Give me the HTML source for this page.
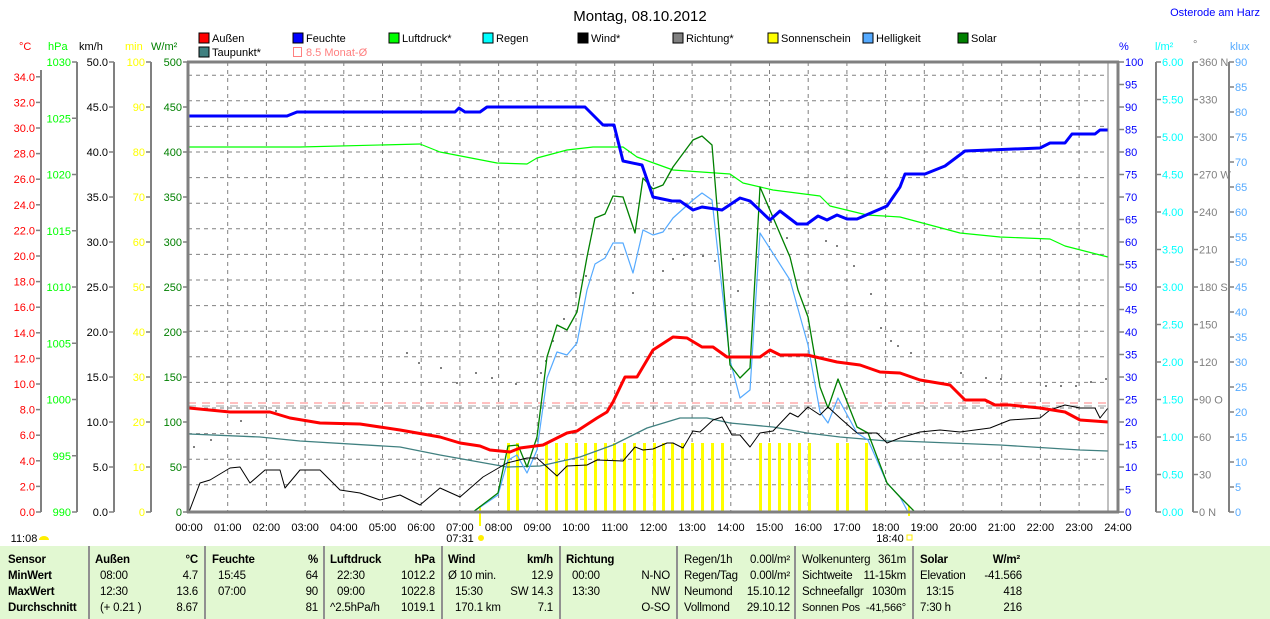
<!DOCTYPE html>
<html><head><meta charset="utf-8"><style>
body{margin:0;width:1270px;height:619px;background:#fff;overflow:hidden;position:relative;font-family:"Liberation Sans",sans-serif}
svg{position:absolute;left:0;top:0}
.tb{position:absolute;left:0;top:546px;width:1270px;height:73px;background:#e2f8d2}
.t{position:absolute;font-size:11.5px;letter-spacing:-0.2px;white-space:nowrap;color:#000}
.b{font-weight:bold}
.r{text-align:right}
.sep{position:absolute;top:546px;width:2px;height:73px;background:#909090}
</style></head><body>
<svg width="1270" height="619" font-family="Liberation Sans, sans-serif">
<text x="640" y="21" font-size="15" text-anchor="middle">Montag, 08.10.2012</text>
<text x="1260" y="16" font-size="11" fill="#0000ff" text-anchor="end">Osterode am Harz</text>
<g font-size="11">
<rect x="199" y="33" width="10" height="10" fill="#ff0000" stroke="#000"/><text x="212" y="42">Außen</text>
<rect x="293" y="33" width="10" height="10" fill="#0000ff" stroke="#000"/><text x="306" y="42">Feuchte</text>
<rect x="389" y="33" width="10" height="10" fill="#00ff00" stroke="#000"/><text x="402" y="42">Luftdruck*</text>
<rect x="483" y="33" width="10" height="10" fill="#00ffff" stroke="#000"/><text x="496" y="42">Regen</text>
<rect x="578" y="33" width="10" height="10" fill="#000" stroke="#000"/><text x="591" y="42">Wind*</text>
<rect x="673" y="33" width="10" height="10" fill="#808080" stroke="#000"/><text x="686" y="42">Richtung*</text>
<rect x="768" y="33" width="10" height="10" fill="#ffff00" stroke="#000"/><text x="781" y="42">Sonnenschein</text>
<rect x="863" y="33" width="10" height="10" fill="#55aaff" stroke="#000"/><text x="876" y="42">Helligkeit</text>
<rect x="958" y="33" width="10" height="10" fill="#008000" stroke="#000"/><text x="971" y="42">Solar</text>
<rect x="199" y="47" width="10" height="10" fill="#408080" stroke="#000"/><text x="212" y="56">Taupunkt*</text>
<rect x="293.5" y="47.5" width="8" height="9" fill="none" stroke="#ff8080"/><text x="306" y="56" fill="#ff8080">8.5 Monat-Ø</text>
</g>
<g font-size="11">
<text x="19" y="50" fill="#ff0000">°C</text>
<text x="48" y="50" fill="#00ff00">hPa</text>
<text x="79" y="50" fill="#000">km/h</text>
<text x="125" y="50" fill="#ffff00">min</text>
<text x="151" y="50" fill="#008000">W/m²</text>
<text x="1119" y="50" fill="#0000ff">%</text>
<text x="1155" y="50" fill="#00ffff">l/m²</text>
<text x="1193" y="48" fill="#808080">°</text>
<text x="1230" y="50" fill="#55aaff">klux</text>
</g>
<g stroke="#808080" stroke-dasharray="4,4" stroke-width="1">
<line x1="188" x2="1108" y1="75.2" y2="75.2"/><line x1="188" x2="1108" y1="100.8" y2="100.8"/><line x1="188" x2="1108" y1="126.4" y2="126.4"/><line x1="188" x2="1108" y1="152" y2="152"/><line x1="188" x2="1108" y1="177.6" y2="177.6"/><line x1="188" x2="1108" y1="203.2" y2="203.2"/><line x1="188" x2="1108" y1="228.8" y2="228.8"/><line x1="188" x2="1108" y1="254.4" y2="254.4"/><line x1="188" x2="1108" y1="280" y2="280"/><line x1="188" x2="1108" y1="305.6" y2="305.6"/><line x1="188" x2="1108" y1="331.2" y2="331.2"/><line x1="188" x2="1108" y1="356.8" y2="356.8"/><line x1="188" x2="1108" y1="382.4" y2="382.4"/><line x1="188" x2="1108" y1="408" y2="408"/><line x1="188" x2="1108" y1="433.6" y2="433.6"/><line x1="188" x2="1108" y1="459.2" y2="459.2"/><line x1="188" x2="1108" y1="484.8" y2="484.8"/>
<line y1="62" y2="512" x1="227.7" x2="227.7"/><line y1="62" y2="512" x1="266.4" x2="266.4"/><line y1="62" y2="512" x1="305.1" x2="305.1"/><line y1="62" y2="512" x1="343.8" x2="343.8"/><line y1="62" y2="512" x1="382.5" x2="382.5"/><line y1="62" y2="512" x1="421.2" x2="421.2"/><line y1="62" y2="512" x1="459.9" x2="459.9"/><line y1="62" y2="512" x1="498.6" x2="498.6"/><line y1="62" y2="512" x1="537.3" x2="537.3"/><line y1="62" y2="512" x1="576" x2="576"/><line y1="62" y2="512" x1="614.7" x2="614.7"/><line y1="62" y2="512" x1="653.4" x2="653.4"/><line y1="62" y2="512" x1="692.1" x2="692.1"/><line y1="62" y2="512" x1="730.8" x2="730.8"/><line y1="62" y2="512" x1="769.5" x2="769.5"/><line y1="62" y2="512" x1="808.2" x2="808.2"/><line y1="62" y2="512" x1="846.9" x2="846.9"/><line y1="62" y2="512" x1="885.6" x2="885.6"/><line y1="62" y2="512" x1="924.3" x2="924.3"/><line y1="62" y2="512" x1="963" x2="963"/><line y1="62" y2="512" x1="1001.7" x2="1001.7"/><line y1="62" y2="512" x1="1040.4" x2="1040.4"/><line y1="62" y2="512" x1="1079.1" x2="1079.1"/>
</g>
<line x1="188" x2="1108" y1="406" y2="406" stroke="#a0a0a0" stroke-dasharray="8,6"/>
<line x1="188" x2="1108" y1="403" y2="403" stroke="#ff8080" stroke-dasharray="8,6"/>
<g fill="#808080">
<rect x="193" y="446" width="2" height="2"/><rect x="210" y="439" width="2" height="2"/><rect x="240" y="420" width="2" height="2"/><rect x="275" y="410" width="2" height="2"/><rect x="406" y="352" width="2" height="2"/><rect x="418" y="362" width="2" height="2"/><rect x="440" y="367" width="2" height="2"/><rect x="456" y="382" width="2" height="2"/><rect x="475" y="372" width="2" height="2"/><rect x="491" y="377" width="2" height="2"/><rect x="515" y="383" width="2" height="2"/><rect x="540" y="372" width="2" height="2"/><rect x="545" y="360" width="2" height="2"/><rect x="552" y="340" width="2" height="2"/><rect x="563" y="318" width="2" height="2"/><rect x="575" y="292" width="2" height="2"/><rect x="585" y="275" width="2" height="2"/><rect x="632" y="292" width="2" height="2"/><rect x="662" y="270" width="2" height="2"/><rect x="672" y="258" width="2" height="2"/><rect x="683" y="254" width="2" height="2"/><rect x="702" y="255" width="2" height="2"/><rect x="714" y="260" width="2" height="2"/><rect x="737" y="290" width="2" height="2"/><rect x="757" y="256" width="2" height="2"/><rect x="770" y="221" width="2" height="2"/><rect x="786" y="237" width="2" height="2"/><rect x="825" y="240" width="2" height="2"/><rect x="836" y="245" width="2" height="2"/><rect x="853" y="265" width="2" height="2"/><rect x="870" y="293" width="2" height="2"/><rect x="880" y="327" width="2" height="2"/><rect x="890" y="340" width="2" height="2"/><rect x="897" y="345" width="2" height="2"/><rect x="910" y="352" width="2" height="2"/><rect x="960" y="372" width="2" height="2"/><rect x="985" y="377" width="2" height="2"/><rect x="1000" y="378" width="2" height="2"/><rect x="1045" y="385" width="2" height="2"/><rect x="1060" y="385" width="2" height="2"/><rect x="1075" y="385" width="2" height="2"/><rect x="1090" y="381" width="2" height="2"/><rect x="1105" y="378" width="2" height="2"/>
</g>
<g fill="#ffff00">
<rect x="507" y="443" width="3" height="69"/><rect x="516" y="443" width="3" height="69"/><rect x="545" y="443" width="3" height="69"/><rect x="555" y="443" width="3" height="69"/><rect x="565" y="443" width="3" height="69"/><rect x="575" y="443" width="3" height="69"/><rect x="584" y="443" width="3" height="69"/><rect x="594" y="443" width="3" height="69"/><rect x="604" y="443" width="3" height="69"/><rect x="613" y="443" width="3" height="69"/><rect x="623" y="443" width="3" height="69"/><rect x="633" y="443" width="3" height="69"/><rect x="643" y="443" width="3" height="69"/><rect x="653" y="443" width="3" height="69"/><rect x="662" y="443" width="3" height="69"/><rect x="671" y="443" width="3" height="69"/><rect x="681" y="443" width="3" height="69"/><rect x="691" y="443" width="3" height="69"/><rect x="701" y="443" width="3" height="69"/><rect x="711" y="443" width="3" height="69"/><rect x="721" y="443" width="3" height="69"/><rect x="759" y="443" width="3" height="69"/><rect x="768" y="443" width="3" height="69"/><rect x="778" y="443" width="3" height="69"/><rect x="788" y="443" width="3" height="69"/><rect x="798" y="443" width="3" height="69"/><rect x="808" y="443" width="3" height="69"/><rect x="836" y="443" width="3" height="69"/><rect x="846" y="443" width="3" height="69"/><rect x="865" y="443" width="3" height="69"/>
<rect x="479" y="506" width="2" height="20"/><rect x="908" y="506" width="2" height="10"/>
</g>
<g fill="none" stroke-linejoin="round">
<polyline stroke="#408080" stroke-width="1.3" points="189,434 260,437 300,441 400,447 440,455 507,467 540,466 580,457 613,445 647,428 680,418 707,418 730,423 773,427 807,433 840,437 887,441 900,441 1000,445 1080,450 1108,451"/>
<polyline stroke="#00ff00" stroke-width="1.2" points="189,147 300,147 420,144 440,152 497,163 527,164 537,158 567,150 593,147 623,147 637,157 673,170 730,174 743,183 773,190 820,196 830,206 867,215 900,217 960,233 1000,237 1050,239 1065,246 1100,255 1108,257"/>
<polyline stroke="#55aaff" stroke-width="1.2" points="473,512 498,495 508,460 517,455 527,473 537,450 547,378 557,352 567,355 577,343 587,290 595,264 605,258 613,243 623,243 633,273 643,230 653,235 663,232 673,218 693,200 702,193 712,200 730,360 740,398 750,390 760,233 790,280 808,345 820,412 828,423 838,398 857,433 868,440 887,483 900,497 908,512"/>
<polyline stroke="#008000" stroke-width="1.3" points="473,512 498,493 508,446 518,445 527,467 537,437 547,357 557,325 567,330 577,312 587,257 595,218 605,214 613,196 623,197 635,233 643,178 653,189 663,185 673,167 693,140 702,136 712,145 730,365 740,378 750,368 760,187 790,257 798,290 808,317 820,387 828,408 838,379 857,427 868,433 887,483 900,497 910,507 915,512"/>
<polyline stroke="#000" stroke-width="1" points="189,512 200,483 210,480 230,468 240,467 250,483 265,470 280,470 285,488 300,470 320,470 340,490 360,493 380,500 400,495 410,500 420,505 440,488 460,497 483,477 507,463 527,458 537,458 557,476 567,466 587,465 597,460 623,461 635,447 643,450 653,449 667,443 673,443 683,448 693,431 700,432 713,420 722,417 732,435 740,435 750,447 760,433 773,431 790,413 798,417 808,407 820,415 828,407 840,418 857,433 877,433 887,443 900,438 920,432 940,430 960,432 990,428 1010,420 1040,418 1050,410 1065,405 1080,408 1095,408 1100,418 1108,408"/>
<polyline stroke="#ff0000" stroke-width="3" points="189,408 230,412 270,412 290,418 320,423 360,424 400,430 440,437 460,443 480,446 490,450 510,452 520,448 543,445 567,433 577,431 597,418 607,412 613,402 625,377 637,377 653,350 673,337 687,338 702,347 713,347 727,357 760,357 770,350 780,355 807,355 837,362 860,365 880,372 900,373 920,380 950,385 965,400 985,400 995,405 1010,405 1040,408 1065,412 1080,420 1108,422"/>
<polyline stroke="#0000ff" stroke-width="3" points="189,116 287,116 297,112 455,112 459,108 465,112 480,112 487,107 585,107 603,125 614,125 623,161 642,165 653,197 672,201 680,201 693,210 702,207 722,210 740,198 750,201 770,220 780,211 797,224 807,224 818,216 827,220 837,215 847,219 857,219 887,206 900,187 905,174 925,174 945,166 965,151 1040,148 1050,143 1065,143 1072,134 1095,134 1100,130 1108,130"/>
</g>
<g stroke="#808080" fill="none">
<line x1="188" y1="62" x2="188" y2="513" stroke-width="3"/>
<line x1="187" y1="512" x2="1119" y2="512" stroke-width="3"/>
<line x1="187" y1="62" x2="1119" y2="62" stroke-width="3"/>
<line x1="1118" y1="61" x2="1118" y2="513" stroke-width="3"/>
<line x1="1108" y1="62" x2="1108" y2="512" stroke-width="1"/>
<line x1="41" y1="70" x2="41" y2="512" stroke-width="2"/>
<line x1="77" y1="62" x2="77" y2="512" stroke-width="2"/>
<line x1="114" y1="62" x2="114" y2="512" stroke-width="2"/>
<line x1="151" y1="62" x2="151" y2="512" stroke-width="2"/>
<line x1="1156" y1="62" x2="1156" y2="512" stroke-width="2"/>
<line x1="1193" y1="62" x2="1193" y2="512" stroke-width="2"/>
<line x1="1229" y1="62" x2="1229" y2="512" stroke-width="2"/>
</g>
<g id="ax" font-size="11"></g>
<g font-size="11" text-anchor="middle">
<text x="189" y="531">00:00</text><text x="227.7" y="531">01:00</text><text x="266.4" y="531">02:00</text><text x="305.1" y="531">03:00</text><text x="343.8" y="531">04:00</text><text x="382.5" y="531">05:00</text><text x="421.2" y="531">06:00</text><text x="459.9" y="531">07:00</text><text x="498.6" y="531">08:00</text><text x="537.3" y="531">09:00</text><text x="576" y="531">10:00</text><text x="614.7" y="531">11:00</text><text x="653.4" y="531">12:00</text><text x="692.1" y="531">13:00</text><text x="730.8" y="531">14:00</text><text x="769.5" y="531">15:00</text><text x="808.2" y="531">16:00</text><text x="846.9" y="531">17:00</text><text x="885.6" y="531">18:00</text><text x="924.3" y="531">19:00</text><text x="963" y="531">20:00</text><text x="1001.7" y="531">21:00</text><text x="1040.4" y="531">22:00</text><text x="1079.1" y="531">23:00</text><text x="1118" y="531">24:00</text>
<text x="460" y="542">07:31</text><text x="890" y="542">18:40</text><text x="24" y="542">11:08</text>
</g>
<circle cx="481" cy="538" r="3" fill="#ffee00"/>
<rect x="907" y="535" width="5" height="5" fill="none" stroke="#ffee00"/>
<path d="M39,540 a5,4 0 0 1 10,0 z" fill="#ffee00"/>
</svg>
<script>
(function(){
var g=document.getElementById('ax'),s='',i,y;
function T(x,y,t,c,a){s+='<text x="'+x+'" y="'+(y+4)+'" fill="'+c+'" text-anchor="'+a+'">'+t+'</text>';}
function L(x1,x2,y){s+='<line x1="'+x1+'" x2="'+x2+'" y1="'+y+'" y2="'+y+'" stroke="#808080" stroke-width="1.5"/>';}
for(i=0;i<=17;i++){y=512-25.6*i;L(36,41,y);T(35,y,(2*i).toFixed(1),'#ff0000','end');}
for(i=0;i<=8;i++){y=512-56.25*i;L(72,77,y);T(71,y,990+5*i,'#00ff00','end');}
for(i=0;i<=10;i++){y=512-45*i;L(109,114,y);T(108,y,(5*i).toFixed(1),'#000','end');}
for(i=0;i<=10;i++){y=512-45*i;L(146,151,y);T(145,y,10*i,'#ffff00','end');}
for(i=0;i<=10;i++){y=512-45*i;L(183,188,y);T(182,y,50*i,'#008000','end');}
for(i=0;i<=20;i++){y=512-22.5*i;L(1119,1124,y);T(1125,y,5*i,'#0000ff','start');}
for(i=0;i<=12;i++){y=512-37.5*i;L(1156,1161,y);T(1162,y,(0.5*i).toFixed(2),'#00ffff','start');}
var dl={0:' N',3:' O',6:' S',9:' W',12:' N'};
for(i=0;i<=12;i++){y=512-37.5*i;L(1193,1198,y);T(1199,y,30*i+(dl[i]||''),'#808080','start');}
for(i=0;i<=18;i++){y=512-25*i;L(1229,1234,y);T(1235,y,5*i,'#55aaff','start');}
g.innerHTML=s;
})();
</script>
<div class="tb"></div>
<div class="sep" style="left:88px"></div><div class="sep" style="left:204px"></div><div class="sep" style="left:323px"></div><div class="sep" style="left:441px"></div><div class="sep" style="left:559px"></div><div class="sep" style="left:676px"></div><div class="sep" style="left:794px"></div><div class="sep" style="left:912px"></div>
<div class="t b" style="left:8px;top:554px">Sensor</div><div class="t b" style="left:8px;top:570px">MinWert</div><div class="t b" style="left:8px;top:586px">MaxWert</div><div class="t b" style="left:8px;top:602px">Durchschnitt</div>
<div class="t b" style="left:95px;top:554px">Außen</div><div class="t b r" style="left:150px;width:48px;top:554px">°C</div>
<div class="t" style="left:100px;top:570px">08:00</div><div class="t r" style="left:150px;width:48px;top:570px">4.7</div>
<div class="t" style="left:100px;top:586px">12:30</div><div class="t r" style="left:150px;width:48px;top:586px">13.6</div>
<div class="t" style="left:100px;top:602px">(+ 0.21 )</div><div class="t r" style="left:150px;width:48px;top:602px">8.67</div>
<div class="t b" style="left:212px;top:554px">Feuchte</div><div class="t b r" style="left:270px;width:48px;top:554px">%</div>
<div class="t" style="left:218px;top:570px">15:45</div><div class="t r" style="left:270px;width:48px;top:570px">64</div>
<div class="t" style="left:218px;top:586px">07:00</div><div class="t r" style="left:270px;width:48px;top:586px">90</div>
<div class="t r" style="left:270px;width:48px;top:602px">81</div>
<div class="t b" style="left:330px;top:554px">Luftdruck</div><div class="t b r" style="left:387px;width:48px;top:554px">hPa</div>
<div class="t" style="left:337px;top:570px">22:30</div><div class="t r" style="left:387px;width:48px;top:570px">1012.2</div>
<div class="t" style="left:337px;top:586px">09:00</div><div class="t r" style="left:387px;width:48px;top:586px">1022.8</div>
<div class="t" style="left:330px;top:602px">^2.5hPa/h</div><div class="t r" style="left:387px;width:48px;top:602px">1019.1</div>
<div class="t b" style="left:448px;top:554px">Wind</div><div class="t b r" style="left:505px;width:48px;top:554px">km/h</div>
<div class="t" style="left:448px;top:570px">Ø 10 min.</div><div class="t r" style="left:505px;width:48px;top:570px">12.9</div>
<div class="t" style="left:455px;top:586px">15:30</div><div class="t r" style="left:495px;width:58px;top:586px">SW 14.3</div>
<div class="t" style="left:455px;top:602px">170.1 km</div><div class="t r" style="left:505px;width:48px;top:602px">7.1</div>
<div class="t b" style="left:566px;top:554px">Richtung</div>
<div class="t" style="left:572px;top:570px">00:00</div><div class="t r" style="left:620px;width:50px;top:570px">N-NO</div>
<div class="t" style="left:572px;top:586px">13:30</div><div class="t r" style="left:620px;width:50px;top:586px">NW</div>
<div class="t r" style="left:620px;width:50px;top:602px">O-SO</div>
<div class="t" style="left:684px;top:554px">Regen/1h</div><div class="t r" style="left:730px;width:60px;top:554px">0.00l/m²</div>
<div class="t" style="left:684px;top:570px">Regen/Tag</div><div class="t r" style="left:730px;width:60px;top:570px">0.00l/m²</div>
<div class="t" style="left:684px;top:586px">Neumond</div><div class="t r" style="left:730px;width:60px;top:586px">15.10.12</div>
<div class="t" style="left:684px;top:602px">Vollmond</div><div class="t r" style="left:730px;width:60px;top:602px">29.10.12</div>
<div class="t" style="left:802px;top:554px">Wolkenunterg</div><div class="t r" style="left:856px;width:50px;top:554px">361m</div>
<div class="t" style="left:802px;top:570px">Sichtweite</div><div class="t r" style="left:856px;width:50px;top:570px">11-15km</div>
<div class="t" style="left:802px;top:586px">Schneefallgr</div><div class="t r" style="left:856px;width:50px;top:586px">1030m</div>
<div class="t" style="left:802px;top:602px;font-size:11px">Sonnen Pos</div><div class="t r" style="left:856px;width:50px;top:602px;font-size:11px">-41,566°</div>
<div class="t b" style="left:920px;top:554px">Solar</div><div class="t b r" style="left:960px;width:60px;top:554px">W/m²</div>
<div class="t" style="left:920px;top:570px">Elevation</div><div class="t r" style="left:960px;width:62px;top:570px">-41.566</div>
<div class="t" style="left:926px;top:586px">13:15</div><div class="t r" style="left:960px;width:62px;top:586px">418</div>
<div class="t" style="left:920px;top:602px">7:30 h</div><div class="t r" style="left:960px;width:62px;top:602px">216</div>
</body></html>
